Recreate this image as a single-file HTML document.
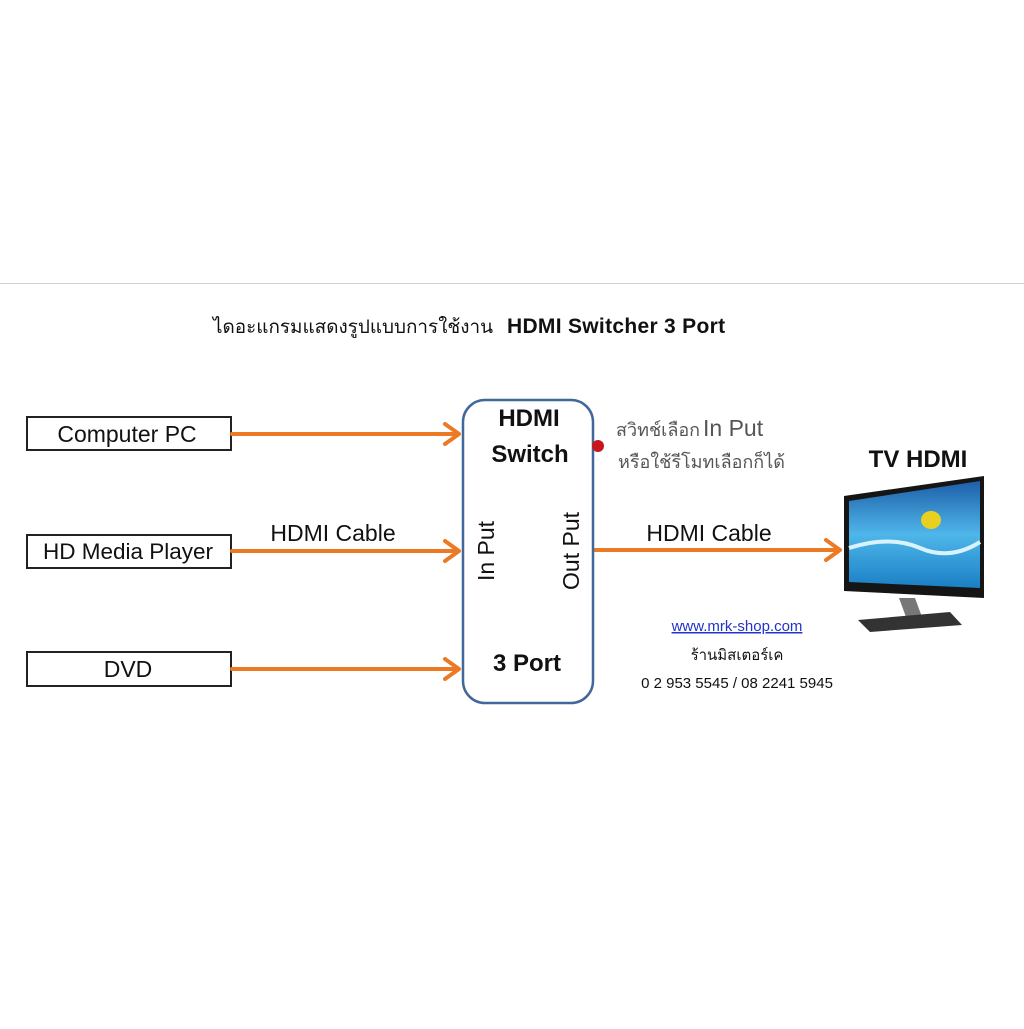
<!DOCTYPE html>
<html><head><meta charset="utf-8"><style>
body{margin:0;background:#fff}
svg text{font-family:"Liberation Sans","DejaVu Sans",sans-serif}
</style></head><body>
<svg width="1024" height="1024" viewBox="0 0 1024 1024" xmlns="http://www.w3.org/2000/svg">
<line x1="0" y1="283.5" x2="1024" y2="283.5" stroke="#d0d0d0" stroke-width="1"/>
<text x="213" y="333" font-size="19" fill="#111" textLength="280" lengthAdjust="spacingAndGlyphs">ไดอะแกรมแสดงรูปแบบการใช้งาน</text>
<text x="507" y="333" font-size="21" font-weight="bold" fill="#111" letter-spacing="0.3">HDMI Switcher 3 Port</text>
<g fill="#fff" stroke="#222" stroke-width="2">
<rect x="27" y="417" width="204" height="33"/>
<rect x="27" y="535" width="204" height="33"/>
<rect x="27" y="652" width="204" height="34"/>
</g>
<g font-size="23" fill="#111" text-anchor="middle">
<text x="127" y="442">Computer PC</text>
<text x="128" y="559" font-size="22.5">HD Media Player</text>
<text x="128" y="677">DVD</text>
<text x="333" y="541" font-size="23">HDMI Cable</text>
<text x="709" y="541" font-size="23">HDMI Cable</text>
</g>
<g stroke="#ec7a24" stroke-width="4" fill="none" stroke-linecap="round" stroke-linejoin="round">
<line x1="232" y1="434" x2="458" y2="434"/><path d="M445,424 L459,434 L445,444"/>
<line x1="232" y1="551" x2="458" y2="551"/><path d="M445,541 L459,551 L445,561"/>
<line x1="232" y1="669" x2="458" y2="669"/><path d="M445,659 L459,669 L445,679"/>
<line x1="594" y1="550" x2="839" y2="550"/><path d="M826,540 L840,550 L826,560"/>
</g>
<rect x="463" y="400" width="130" height="303" rx="22" fill="#fff" stroke="#41689a" stroke-width="2.5"/>
<circle cx="598" cy="446" r="6" fill="#c8161d"/>
<g font-size="24" font-weight="bold" fill="#111" text-anchor="middle">
<text x="529" y="426">HDMI</text>
<text x="530" y="462">Switch</text>
<text x="527" y="671">3 Port</text>
</g>
<text transform="translate(494,551) rotate(-90)" font-size="23" fill="#111" text-anchor="middle">In Put</text>
<text transform="translate(579,551) rotate(-90)" font-size="23" fill="#111" text-anchor="middle">Out Put</text>
<text x="616" y="436" font-size="18" fill="#555">สวิทช์เลือก</text>
<text x="703" y="436" font-size="23" fill="#555">In Put</text>
<text x="618" y="468" font-size="18" fill="#555">หรือใช้รีโมทเลือกก็ได้</text>
<text x="737" y="631" font-size="15" fill="#2233cc" text-anchor="middle" text-decoration="underline">www.mrk-shop.com</text>
<text x="737" y="660" font-size="15" fill="#111" text-anchor="middle">ร้านมิสเตอร์เค</text>
<text x="737" y="688" font-size="15" fill="#111" text-anchor="middle">0 2 953 5545 / 08 2241 5945</text>
<text x="918" y="467" font-size="24" font-weight="bold" fill="#111" text-anchor="middle">TV HDMI</text>
<defs><linearGradient id="s" x1="0" y1="0" x2="0" y2="1"><stop offset="0" stop-color="#1d5fa8"/><stop offset="0.5" stop-color="#4fb6ea"/><stop offset="1" stop-color="#1a7fc4"/></linearGradient></defs>
<polygon points="844,496 984,476 984,598 844,591" fill="#151515"/>
<polygon points="849,501 980,481 980,588 849,582" fill="url(#s)"/>
<path d="M849,548 Q890,535 920,548 T980,542" stroke="#d8f2ff" stroke-width="4" fill="none"/>
<ellipse cx="931" cy="520" rx="10" ry="9" fill="#e8d020"/>
<polygon points="899,598 915,598 922,617 906,617" fill="#777"/>
<polygon points="858,620 950,612 962,625 870,632" fill="#333"/>
</svg>
</body></html>
